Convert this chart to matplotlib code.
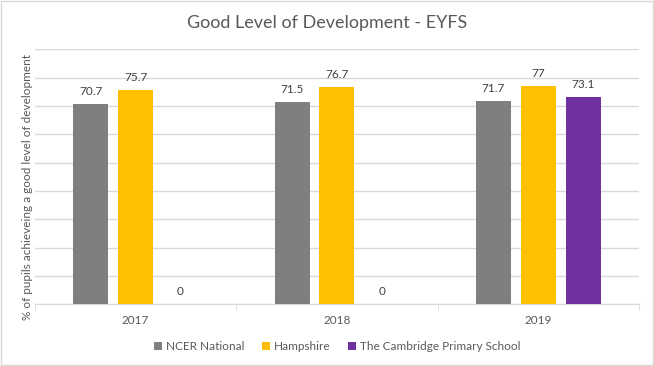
import numpy as np
import matplotlib
matplotlib.use("Agg")
import matplotlib.pyplot as plt
from matplotlib.patches import Rectangle

years = ["2017", "2018", "2019"]
series_names = ["NCER National", "Hampshire", "The Cambridge Primary School"]
ncer = [70.7, 71.5, 71.7]
hampshire = [75.7, 76.7, 77]
cambridge = [0, 0, 73.1]
colors = ["#7F7F7F", "#FFC000", "#7030A0"]

plt.rcParams['font.family'] = ['Lato', 'DejaVu Sans']
txt = "#595959"

fig = plt.figure(figsize=(6.54, 3.66), dpi=100)
ax = fig.add_axes([0.0535, 0.1686, 0.9235, 0.6967])

x = np.arange(len(years))
width = 0.174
step = 0.223
for i, (vals, name, c) in enumerate(zip([ncer, hampshire, cambridge], series_names, colors)):
    bars = ax.bar(x + (i - 1) * step, vals, width, color=c, label=name, zorder=3)
    for b, v in zip(bars, vals):
        ax.annotate(f"{v:g}", (b.get_x() + b.get_width() / 2, v), xytext=(0, 5),
                    textcoords="offset points", ha="center", va="bottom",
                    fontsize=8.5, color="#404040")

ax.set_ylim(0, 90)
ax.set_xlim(-0.5, 2.5)
ax.set_yticks(np.arange(0, 91, 10))
ax.yaxis.grid(True, color="#D9D9D9", linewidth=1, zorder=0)
ax.tick_params(axis="y", left=False, labelleft=False)
ax.set_xticks(x)
ax.set_xticklabels(years, fontsize=8.5, color=txt)
ax.tick_params(axis="x", length=0, pad=8)
# category boundary ticks
ax.set_xticks([-0.5, 0.5, 1.5, 2.5], minor=True)
ax.tick_params(axis="x", which="minor", length=4, color="#D9D9D9")
for s in ["top", "right", "left"]:
    ax.spines[s].set_visible(False)
ax.spines["bottom"].set_color("#D9D9D9")

ax.set_ylabel("% of pupils achieveing a good level of development", fontsize=8.5, color=txt)
ax.yaxis.set_label_coords(-0.003, 0.46)
fig.suptitle("Good Level of Development - EYFS", fontsize=13, color=txt, y=0.96)

ax.legend(loc="center", bbox_to_anchor=(0.5, -0.165), ncol=3, frameon=False,
          fontsize=8.5, labelcolor=txt, handlelength=0.7, handleheight=0.7,
          handletextpad=0.3, columnspacing=1.5)

fig.patches.append(Rectangle((0.001, 0.002), 0.997, 0.995, transform=fig.transFigure,
                             fill=False, edgecolor="#D9D9D9", linewidth=1))
fig.savefig("out.png", dpi=100, facecolor="white")
